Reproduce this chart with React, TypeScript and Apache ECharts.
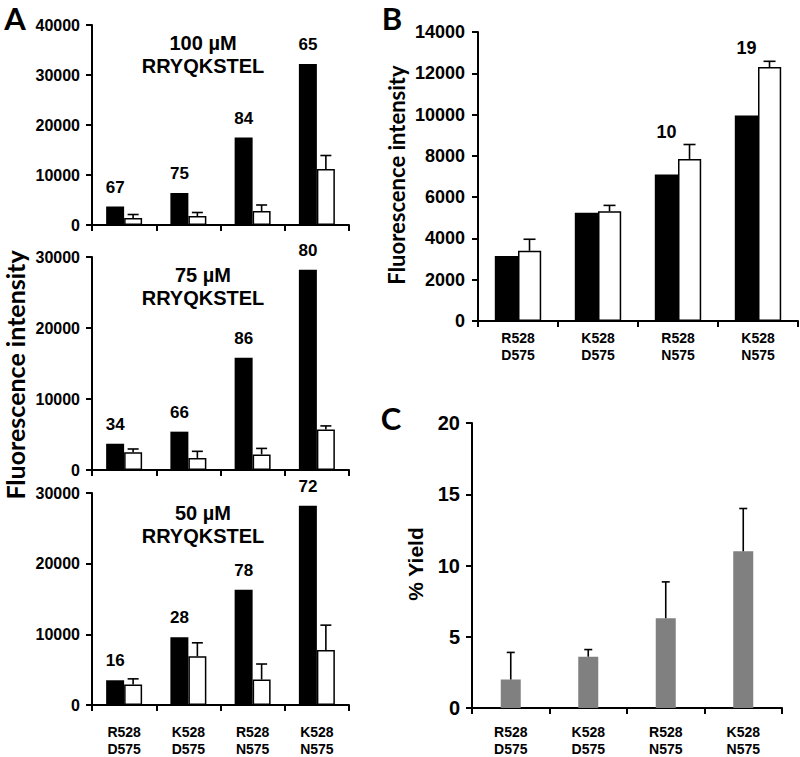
import React, { useEffect, useRef } from "react";
import * as echarts from "echarts";

// ---------- data ----------
const categories = ["R528\nD575", "K528\nD575", "R528\nN575", "K528\nN575"];

// Panel A – 100 µM
const a100Black = [3700, 6400, 17500, 32200];
const a100White = [1400, 1800, 2800, 11200];
const a100WhiteErr = [700, 700, 1200, 2700];
const a100Labels = ["67", "75", "84", "65"];

// Panel A – 75 µM
const a75Black = [3700, 5400, 15800, 28200];
const a75White = [2500, 1700, 2200, 5700];
const a75WhiteErr = [460, 930, 840, 510];
const a75Labels = ["34", "66", "86", "80"];

// Panel A – 50 µM
const a50Black = [3500, 9600, 16300, 28200];
const a50White = [2900, 6900, 3600, 7800];
const a50WhiteErr = [800, 1900, 2200, 3500];
const a50Labels = ["16", "28", "78", "72"];

// Panel B
const bBlack = [3150, 5250, 7100, 9950];
const bWhite = [3400, 5320, 7850, 12300];
const bWhiteErr = [560, 280, 700, 280];
const bLabels = ["", "", "10", "19"];

// Panel C
const cYield = [2.0, 3.6, 6.3, 11.0];
const cYieldErr = [1.9, 0.5, 2.55, 3.0];

const AX_FONT = "'Liberation Sans', Arial, sans-serif";
const CAL_FONT = "Lato, 'Liberation Sans', sans-serif";

function errorSeries(
  idx: number,
  means: number[],
  errs: number[],
  offsetFrac: number,
  capW: number
) {
  return {
    type: "custom",
    xAxisIndex: idx,
    yAxisIndex: idx,
    z: 10,
    silent: true,
    encode: { x: 0, y: [1, 2] },
    data: means.map((m, i) => [i, m, m + errs[i]]),
    renderItem: (_params: any, api: any) => {
      const p0 = api.coord([api.value(0), api.value(1)]);
      const p1 = api.coord([api.value(0), api.value(2)]);
      const band = api.size([1, 0])[0];
      const x = p0[0] + band * offsetFrac;
      const st = { stroke: "#000", lineWidth: 1.6 };
      return {
        type: "group",
        children: [
          { type: "line", shape: { x1: x, y1: p0[1], x2: x, y2: p1[1] }, style: st },
          { type: "line", shape: { x1: x - capW / 2, y1: p1[1], x2: x + capW / 2, y2: p1[1] }, style: st },
        ],
      };
    },
  };
}

function xAxis(idx: number, showLabels: boolean, margin: number) {
  return {
    type: "category",
    gridIndex: idx,
    data: categories,
    axisLine: { show: true, lineStyle: { color: "#000", width: 2 } },
    axisTick: { show: true, length: 6, lineStyle: { color: "#000", width: 2 } },
    axisLabel: {
      show: showLabels,
      color: "#000",
      fontWeight: "bold",
      fontSize: 14,
      lineHeight: 17,
      fontFamily: AX_FONT,
      margin,
    },
    splitLine: { show: false },
  };
}

function yAxis(idx: number, max: number, interval: number, fontSize: number, margin: number) {
  return {
    type: "value",
    gridIndex: idx,
    min: 0,
    max,
    interval,
    axisLine: { show: true, lineStyle: { color: "#000", width: 2 } },
    axisTick: { show: true, length: 6, lineStyle: { color: "#000", width: 2 } },
    axisLabel: {
      color: "#000",
      fontWeight: "bold",
      fontSize,
      fontFamily: AX_FONT,
      margin,
      formatter: (v: number) => String(v),
    },
    splitLine: { show: false },
  };
}

function pairBars(idx: number, black: number[], white: number[], labels: string[] | null, gap: string) {
  const labelCfg = labels
    ? {
        show: true,
        position: "top",
        distance: 11,
        color: "#000",
        fontWeight: "bold",
        fontSize: 17,
        fontFamily: AX_FONT,
        formatter: (p: any) => labels[p.dataIndex],
      }
    : { show: false };
  return [
    {
      type: "bar",
      xAxisIndex: idx,
      yAxisIndex: idx,
      data: black,
      barGap: "0%",
      barCategoryGap: gap,
      itemStyle: { color: "#000" },
      label: labelCfg,
    },
    {
      type: "bar",
      xAxisIndex: idx,
      yAxisIndex: idx,
      data: white,
      barGap: "0%",
      barCategoryGap: gap,
      itemStyle: { color: "#fff", borderColor: "#000", borderWidth: 1.5 },
    },
  ];
}

export default function App() {
  const ref = useRef<HTMLDivElement>(null);
  useEffect(() => {
    if (!ref.current) return;
    const chart = echarts.init(ref.current, undefined, { renderer: "svg" });

    const bBlackSeries: any = pairBars(3, bBlack, bWhite, null, "42%");
    bBlackSeries[0].markPoint = {
      symbol: "circle",
      symbolSize: 0,
      silent: true,
      label: {
        show: true,
        position: "inside",
        offset: [0, -13],
        color: "#000",
        fontWeight: "bold",
        fontSize: 18,
        fontFamily: AX_FONT,
        formatter: (p: any) => p.name,
      },
      data: bLabels
        .map((t, i) => ({ name: t, coord: [i, bWhite[i] + bWhiteErr[i]] }))
        .filter((d) => d.name !== ""),
    };

    const titleTexts = (cy: number, conc: string) => [
      {
        type: "text",
        x: 203,
        y: cy,
        style: {
          text: conc,
          font: `bold 20px ${AX_FONT}`,
          fill: "#000",
          textAlign: "center",
          textVerticalAlign: "middle",
        },
      },
      {
        type: "text",
        x: 203,
        y: cy + 23,
        style: {
          text: "RRYQKSTEL",
          font: `bold 20px ${AX_FONT}`,
          fill: "#000",
          textAlign: "center",
          textVerticalAlign: "middle",
        },
      },
    ];

    const letter = (t: string, x: number, y: number) => ({
      type: "text",
      x,
      y,
      style: { text: t, font: `bold 31px ${CAL_FONT}`, fill: "#000", textAlign: "center", textVerticalAlign: "middle" },
    });

    const option: any = {
      animation: false,
      backgroundColor: "#fff",
      textStyle: { fontFamily: AX_FONT },
      grid: [
        { left: 92, top: 25, width: 257, height: 200 },
        { left: 92, top: 257, width: 257, height: 213 },
        { left: 92, top: 493, width: 257, height: 214 },
        { left: 478, top: 32, width: 320, height: 289 },
        { left: 472, top: 423, width: 310, height: 286 },
      ],
      xAxis: [
        xAxis(0, false, 8),
        xAxis(1, false, 8),
        xAxis(2, true, 18),
        xAxis(3, true, 8),
        xAxis(4, true, 15),
      ],
      yAxis: [
        yAxis(0, 40000, 10000, 16, 12),
        yAxis(1, 30000, 10000, 16, 12),
        yAxis(2, 30000, 10000, 16, 12),
        yAxis(3, 14000, 2000, 18, 13),
        yAxis(4, 20, 5, 20, 12),
      ],
      series: [
        ...pairBars(0, a100Black, a100White, a100Labels, "44%"),
        errorSeries(0, a100White, a100WhiteErr, 0.14, 11),
        ...pairBars(1, a75Black, a75White, a75Labels, "44%"),
        errorSeries(1, a75White, a75WhiteErr, 0.14, 11),
        ...pairBars(2, a50Black, a50White, a50Labels, "44%"),
        errorSeries(2, a50White, a50WhiteErr, 0.14, 11),
        ...bBlackSeries,
        errorSeries(3, bWhite, bWhiteErr, 0.144, 12),
        {
          type: "bar",
          xAxisIndex: 4,
          yAxisIndex: 4,
          data: cYield,
          barWidth: 20,
          itemStyle: { color: "#808080" },
        },
        errorSeries(4, cYield, cYieldErr, 0, 8),
      ],
      graphic: [
        letter("A", 15, 18),
        letter("B", 392, 18),
        letter("C", 391, 418),
        {
          type: "text",
          x: 15,
          y: 375,
          rotation: Math.PI / 2,
          style: {
            text: "Fluorescence intensity",
            font: `bold 25px ${CAL_FONT}`,
            fill: "#000",
            textAlign: "center",
            textVerticalAlign: "middle",
          },
        },
        {
          type: "text",
          x: 396,
          y: 175,
          rotation: Math.PI / 2,
          style: {
            text: "Fluorescence intensity",
            font: `bold 22px ${CAL_FONT}`,
            fill: "#000",
            textAlign: "center",
            textVerticalAlign: "middle",
          },
        },
        {
          type: "text",
          x: 415,
          y: 564,
          rotation: Math.PI / 2,
          style: {
            text: "% Yield",
            font: `bold 21px ${AX_FONT}`,
            fill: "#000",
            textAlign: "center",
            textVerticalAlign: "middle",
          },
        },
        ...titleTexts(43, "100 µM"),
        ...titleTexts(275, "75 µM"),
        ...titleTexts(513, "50 µM"),
      ],
    };
    chart.setOption(option);
    return () => chart.dispose();
  }, []);
  return (
    <div
      ref={ref}
      style={{ position: "fixed", left: 0, top: 0, width: 800, height: 757, background: "#fff" }}
    />
  );
}
